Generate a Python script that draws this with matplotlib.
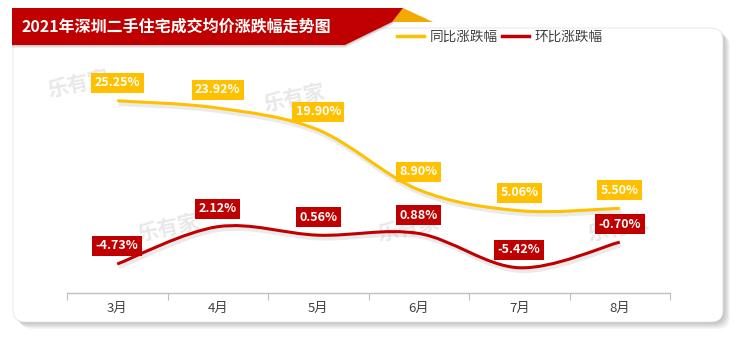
import numpy as np
import matplotlib.pyplot as plt
import matplotlib.patheffects as pe
from matplotlib.path import Path
from matplotlib.patches import PathPatch, FancyBboxPatch, Polygon
from matplotlib.lines import Line2D

plt.rcParams['font.family'] = ['Noto Sans CJK SC', 'DejaVu Sans']

# data
months = ["3月", "4月", "5月", "6月", "7月", "8月"]
yoy = [25.25, 23.92, 19.90, 8.90, 5.06, 5.50]
mom = [-4.73, 2.12, 0.56, 0.88, -5.42, -0.70]
series_names = ["同比涨跌幅", "环比涨跌幅"]
title = "2021年深圳二手住宅成交均价涨跌幅走势图"
watermark = "乐有家"

GOLD = "#FFC000"
RED = "#C00000"
GREY_TXT = "#404040"

W, H = 744, 338
fig = plt.figure(figsize=(W / 100, H / 100), dpi=100)


def smooth_path(xs, ys):
    # excel style smoothed line: cubic bezier through every point
    pts = np.column_stack([xs, ys]).astype(float)
    ext = np.vstack([pts[0], pts, pts[-1]])
    verts = [pts[0]]
    codes = [Path.MOVETO]
    for i in range(len(pts) - 1):
        p0, p1, p2, p3 = ext[i], ext[i + 1], ext[i + 2], ext[i + 3]
        verts += [p1 + (p2 - p0) / 6, p2 - (p3 - p1) / 6, p2]
        codes += [Path.CURVE4] * 3
    return Path(verts, codes)


# background layer in pixel units
bg = fig.add_axes([0, 0, 1, 1])
bg.set_xlim(0, W)
bg.set_ylim(H, 0)
bg.axis("off")

# card with a soft shadow
for d in np.arange(1, 8):
    bg.add_patch(FancyBboxPatch((13 + d, 28 + d), 710, 294,
                                boxstyle="round,pad=0,rounding_size=12",
                                fc="black", ec="none", alpha=0.035))
bg.add_patch(FancyBboxPatch((13, 28), 710, 294,
                            boxstyle="round,pad=0,rounding_size=12",
                            fc="white", ec="#E4E4E4", lw=0.6))

# title ribbon
for d in (1, 2, 3):
    bg.add_patch(Polygon([(12, 8 + d), (403, 8 + d), (392, 22 + d), (345, 45 + d), (12, 45 + d)],
                         closed=True, fc="black", ec="none", alpha=0.07))
bg.add_patch(Polygon([(403, 8), (433, 22), (390, 22)], closed=True, fc="#F2A900", ec="none"))
bg.add_patch(Polygon([(12, 8), (403, 8), (392, 22), (345, 45), (12, 45)],
                     closed=True, fc=RED, ec="none"))
bg.text(22, 27, title, color="white", fontsize=11.5, fontweight="bold", va="center", ha="left")

# faint watermarks
for wx, wy in [(78, 84), (294, 98), (168, 228), (408, 228), (618, 228)]:
    bg.text(wx, wy, watermark, color="#E8E8E8", fontsize=15, fontweight="bold",
            rotation=12, ha="center", va="center")

# chart area
ax = fig.add_axes([67 / W, (H - 292.7) / H, 603 / W, (292.7 - 74.9) / H])
ax.patch.set_alpha(0)
ax.set_xlim(-0.5, 5.5)
ax.set_ylim(-10, 30)
for s in ("top", "left", "right"):
    ax.spines[s].set_visible(False)
ax.spines["bottom"].set_color("#BFBFBF")
ax.spines["bottom"].set_linewidth(1)
ax.set_yticks([])
x = np.arange(len(months))
ax.set_xticks(np.arange(-0.5, len(months)), labels=[])
ax.tick_params(axis="x", which="major", length=5, color="#BFBFBF", direction="out")
ax.set_xticks(x, labels=months, minor=True)
ax.tick_params(axis="x", which="minor", length=0, pad=7, labelsize=9.5, labelcolor=GREY_TXT)

shadow = [pe.SimpleLineShadow(offset=(1, -2), shadow_color="#909090", alpha=0.18, linewidth=3.5),
          pe.Normal()]
for vals, color in [(yoy, GOLD), (mom, RED)]:
    ax.add_patch(PathPatch(smooth_path(x, vals), fill=False, ec=color, lw=2.2,
                           capstyle="butt", path_effects=shadow))
    for xi, v in zip(x, vals):
        ax.annotate(f"{v:.2f}%", (xi, v), xytext=(0, 13), textcoords="offset points",
                    ha="center", va="center", color="white", fontsize=9, fontweight="bold",
                    bbox=dict(boxstyle="square,pad=0.28", fc=color, ec="none"))

handles = [Line2D([], [], color=GOLD, lw=2.5), Line2D([], [], color=RED, lw=2.5)]
fig.legend(handles, series_names, loc="center left", bbox_to_anchor=(397 / W, 1 - 37 / H),
           ncol=2, frameon=False, fontsize=9.8, labelcolor=GREY_TXT, handlelength=2.0,
           handletextpad=0.4, columnspacing=0.3, borderpad=0, borderaxespad=0)

fig.savefig("out.png", dpi=100)
